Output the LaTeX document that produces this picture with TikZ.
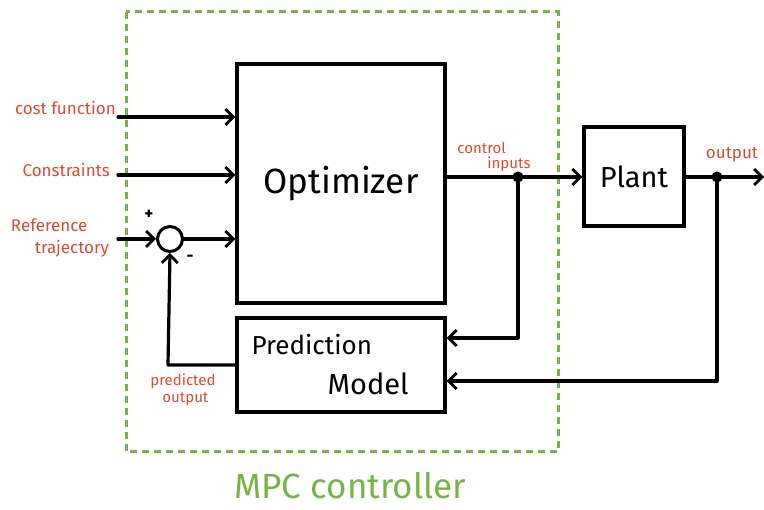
\documentclass[tikz,border=0pt]{standalone}
\usepackage{fontspec}
\setmainfont{Fira Sans}
\usetikzlibrary{arrows.meta}
\definecolor{lbl}{RGB}{214,76,52}
\definecolor{mpc}{RGB}{118,180,72}
\begin{document}
\begin{tikzpicture}[x=1pt,y=-1pt,
  wire/.style={line width=3.2pt,line cap=round,line join=round},
  tip/.style={wire,-{Straight Barb[length=8pt,width=16pt,line width=2.8pt]}},
  block/.style={draw,line width=3.2pt,minimum width=208pt},
  lab/.style={text=lbl,font=\fontsize{17}{17}\selectfont,align=center,inner sep=0pt},
  sign/.style={font=\fontsize{17}{17}\selectfont\bfseries,inner sep=0pt},
  dot/.style={circle,fill,inner sep=0pt,minimum size=11pt}]
\useasboundingbox (0,0) rectangle (764,510);
% controller frame
\draw[mpc,line width=3pt,dash pattern=on 7pt off 5pt] (126,12) rectangle (558,452);
\node[text=mpc,font=\fontsize{35}{35}\selectfont] (mpclab) at (350,486) {MPC controller};
% blocks
\node[block,minimum height=239pt,font=\fontsize{35}{35}\selectfont] (opt) at (341,183.5) {Optimizer};
\node[block,minimum height=94pt] (pred) at (341,365) {};
\node[font=\fontsize{26}{26}\selectfont,anchor=west] (predt1) at (248,345) {Prediction};
\node[font=\fontsize{29}{29}\selectfont,anchor=west] (predt2) at (324,384) {Model};
\node[draw,line width=3.2pt,minimum width=100pt,minimum height=99pt,font=\fontsize{29}{29}\selectfont] (plant) at (634,176.5) {Plant};
\node[draw,circle,line width=3pt,minimum size=25pt,inner sep=0pt] (sum) at (170,239) {};
% input labels
\node[lab,anchor=east] (cf) at (116,108) {cost function};
\node[lab,anchor=east] (cs) at (110,170) {Constraints};
\node[lab,align=left] (rt) at (60,238) {Reference\\[5pt]\hspace*{24pt}trajectory};
\node[sign] (plus) at (149,215) {+};
\node[sign] (minus) at (190,258) {-};
\node[lab,font=\fontsize{15}{15}\selectfont,align=left] (ci) at (494,157) {control\\\hspace*{30pt}inputs};
\node[lab] (out) at (732,155) {output};
\node[lab,font=\fontsize{15}{15}\selectfont,align=left] (po) at (183,390) {predicted\\[2pt]\hspace*{12pt}output};
% junctions
\coordinate (cfin) at (118,117);
\coordinate (csin) at (118,175);
\coordinate (rtin) at (118,239);
\coordinate (yend) at (764,177);
\node[dot] (j1) at (518,177) {};
\node[dot] (j2) at (717,177) {};
\coordinate (k1) at (518,338);
\coordinate (k2) at (717,381);
\coordinate (k3) at (168,365);
% connectors
\draw[tip] (cfin) -- (cfin -| opt.west);
\draw[tip] (csin) -- (csin -| opt.west);
\draw[tip] (rtin) -- (sum.west);
\draw[tip] (sum.east) -- (sum.east -| opt.west);
\draw[tip] (opt.east |- j1) -- (plant.west |- j1);
\draw[tip] (plant.east |- j2) -- (yend);
\draw[tip] (j1) -- (k1) -- (k1 -| pred.east);
\draw[tip] (j2) -- (k2) -- (k2 -| pred.east);
\draw[tip] (pred.west |- k3) -- (k3) -- (sum.south);
\end{tikzpicture}
\end{document}
